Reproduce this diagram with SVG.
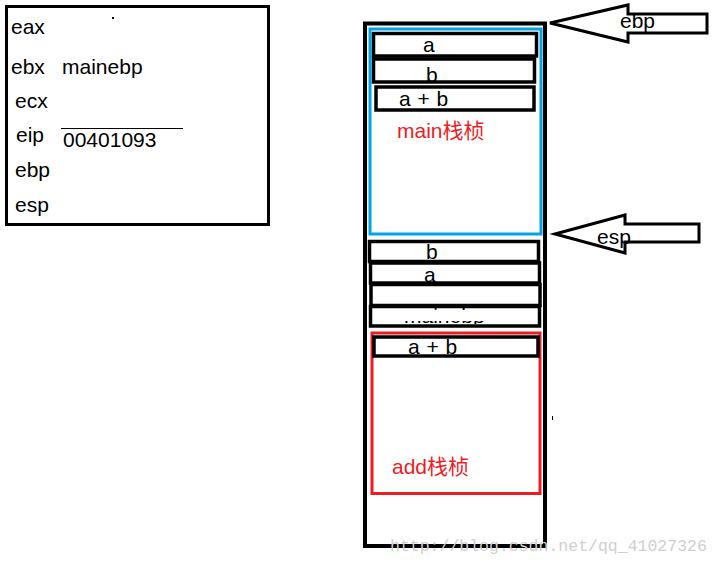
<svg xmlns="http://www.w3.org/2000/svg" width="721" height="566" viewBox="0 0 721 566">
<style>
.t{font-family:"Liberation Sans","Noto Sans CJK SC",sans-serif;font-size:21px;fill:#000}
.r{fill:#ed1c24}
.bx{fill:#fff;stroke:#000;stroke-width:3.5}
.ar{fill:#fff;stroke:#000;stroke-width:3;stroke-linejoin:miter}
.wm{font-family:"Liberation Mono",monospace;font-size:16.5px;fill:#cfcfcf}
</style>
<defs>
<clipPath id="frag"><rect x="400" y="307" width="90" height="3"/><rect x="400" y="321" width="90" height="3"/></clipPath>
</defs>
<rect width="721" height="566" fill="#fff"/>

<g id="registers">
<rect x="6.5" y="6.5" width="262" height="218" fill="#fff" stroke="#000" stroke-width="3"/>
<rect x="112" y="17" width="2" height="2" fill="#000"/>
<text class="t" x="11" y="34">eax</text>
<text class="t" x="11" y="74">ebx</text>
<text class="t" x="62" y="74">mainebp</text>
<text class="t" x="15" y="108">ecx</text>
<text class="t" x="16" y="142">eip</text>
<line x1="61" y1="128.5" x2="183" y2="128.5" stroke="#000" stroke-width="1"/>
<text class="t" x="63" y="147">00401093</text>
<text class="t" x="15" y="177">ebp</text>
<text class="t" x="15" y="212">esp</text>
</g>

<g id="stack">
<rect x="365" y="23.5" width="180" height="522.5" fill="#fff" stroke="#000" stroke-width="4"/>
<rect x="552" y="416" width="1" height="4" fill="#000"/>
</g>

<g id="main-frame">
<rect x="370" y="29" width="171" height="205" fill="none" stroke="#00a2e8" stroke-width="3"/>
<rect class="bx" x="373.5" y="33.5" width="163" height="22.5"/>
<text class="t" x="423" y="52">a</text>
<rect class="bx" x="373.5" y="59" width="161" height="23"/>
<text class="t" x="426" y="82">b</text>
<rect class="bx" x="376" y="87" width="158" height="23"/>
<text class="t" x="399" y="106" word-spacing="1">a + b</text>
<text class="t r" x="397" y="138">main栈桢</text>
</g>

<g id="saved-values">
<rect class="bx" x="369.5" y="241.5" width="169" height="20"/>
<text class="t" x="426" y="259">b</text>
<rect class="bx" x="370.5" y="263" width="169" height="20"/>
<text class="t" x="424" y="282">a</text>
<rect class="bx" x="371" y="284.5" width="169" height="21"/>
<rect class="bx" x="370.5" y="306.5" width="169" height="19.5"/>
<text class="t" x="404" y="323" clip-path="url(#frag)">mainebp</text>
</g>

<g id="add-frame">
<rect x="372" y="333" width="168" height="160.5" fill="none" stroke="#ed1c24" stroke-width="3"/>
<rect class="bx" x="374" y="337" width="164" height="19"/>
<text class="t" x="408" y="354" word-spacing="1">a + b</text>
<text class="t r" x="392" y="474">add栈桢</text>
</g>

<g id="ebp-arrow">
<polygon class="ar" points="550,23 628,5 628,14 707,14 707,33 628,33 628,42"/>
<text class="t" x="620" y="28">ebp</text>
</g>

<g id="esp-arrow">
<polygon class="ar" points="555,234 625,215 625,224 699,224 699,242 625,242 625,253"/>
<text class="t" x="597" y="244">esp</text>
</g>

<g id="connectors"></g>

<text class="wm" x="390" y="551">http://blog.csdn.net/qq_41027326</text>
</svg>
